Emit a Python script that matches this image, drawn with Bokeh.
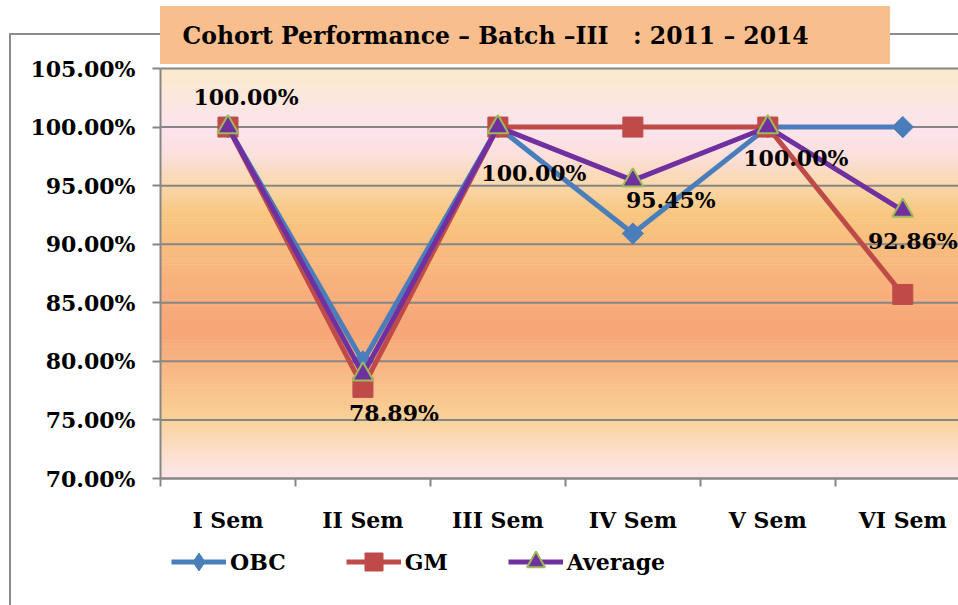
import numpy as np
from bokeh.plotting import figure
from bokeh.models import (Range1d, FixedTicker, PrintfTickFormatter, Legend, LegendItem,
                          ColumnDataSource, Label)
from bokeh.core.properties import value
from bokeh.embed import file_html
from bokeh.resources import INLINE

# ---------------- data ----------------
categories = ["I Sem", "II Sem", "III Sem", "IV Sem", "V Sem", "VI Sem"]
obc = [100.00, 80.00, 100.00, 90.91, 100.00, 100.00]
gm = [100.00, 77.78, 100.00, 100.00, 100.00, 85.71]
average = [100.00, 78.89, 100.00, 95.45, 100.00, 92.86]
average_labels = ["100.00%", "78.89%", "100.00%", "95.45%", "100.00%", "92.86%"]
y_ticks = [70, 75, 80, 85, 90, 95, 100, 105]
series_names = ["OBC", "GM", "Average"]
title_text = "Cohort Performance \u2013 Batch \u2013III \u00a0 : 2011 \u2013 2014"

# ---------------- style ----------------
FONT = "DejaVu Serif"
GRAY = "#868686"
BLUE = "#4A7EBB"
RED = "#BE4B48"
PURPLE = "#7030A0"
GREEN = "#9BBB59"

W, H = 958, 605
PLOT_LEFT, PLOT_TOP, PLOT_BOTTOM = 160, 68, 478      # pixel layout of plot area
CAT_W = 134.96                                      # pixel width of one category
Y_MIN, Y_MAX = 70, 105
px_per_y = (PLOT_BOTTOM - PLOT_TOP) / (Y_MAX - Y_MIN)

# label pixel offsets (style, not data)
lab_dx = [18, 31, 36, 38, 28, 10]
lab_dy = [-30, 39, 46, 20, 31, 30]

xs = list(range(1, len(categories) + 1))

# chart-area border and title box painted behind the (transparent) canvas
bg_css = ("linear-gradient(#F9BE8E, #F9BE8E) 160px 6px / 730px 58px no-repeat, "
          "linear-gradient(#8C8C8C, #8C8C8C) 9px 33px / 2px 700px no-repeat, "
          "linear-gradient(#8C8C8C, #8C8C8C) 9px 33px / 1000px 2px no-repeat, "
          "#ffffff")

x0 = 0.5 - PLOT_LEFT / CAT_W
x1 = 0.5 + (W - PLOT_LEFT) / CAT_W
y0 = Y_MIN - (H - PLOT_BOTTOM) / px_per_y
y1 = Y_MAX + PLOT_TOP / px_per_y

p = figure(width=W, height=H, output_backend="svg", toolbar_location=None,
           x_range=Range1d(x0, x1), y_range=Range1d(y0, y1),
           min_border=0, outline_line_color=None,
           background_fill_color=None, border_fill_color=None,
           styles={"background": bg_css})

# gradient background of the plot area
stops_y = [70, 72.5, 75, 80, 82.5, 85, 90, 92.5, 95, 97.5, 100, 105]
stops_r = [253, 252, 250, 248, 247, 248, 248, 249, 250, 252, 253, 251]
stops_g = [230, 222, 210, 180, 166, 172, 190, 199, 215, 224, 228, 234]
stops_b = [235, 200, 152, 130, 120, 124, 128, 128, 170, 220, 238, 204]
edges = np.linspace(Y_MIN, Y_MAX, 141)
mids = (edges[:-1] + edges[1:]) / 2
cols = ["#%02x%02x%02x" % (int(np.interp(m, stops_y, stops_r)),
                           int(np.interp(m, stops_y, stops_g)),
                           int(np.interp(m, stops_y, stops_b))) for m in mids]
tops = np.minimum(edges[1:] + 0.05, Y_MAX)
p.quad(left=0.5, right=8, bottom=edges[:-1], top=tops,
       fill_color=cols, line_color=None, level="image")

# horizontal gridlines at the y ticks, restricted to the plot area
p.segment(x0=0.5, x1=8, y0=y_ticks, y1=y_ticks, line_color=GRAY, line_width=2,
          level="underlay")

# axes (fixed inside the canvas-wide frame)
p.xaxis.fixed_location = Y_MIN
p.xaxis.bounds = (0.5, 8)
p.xaxis.ticker = FixedTicker(ticks=xs, minor_ticks=[x - 0.5 for x in xs] + [xs[-1] + 0.5])
p.xaxis.major_label_overrides = {x: c for x, c in zip(xs, categories)}
p.xaxis.major_tick_out = 0
p.xaxis.major_tick_in = 0
p.xaxis.minor_tick_out = 8
p.xaxis.minor_tick_in = 0
p.xaxis.minor_tick_line_color = GRAY
p.xaxis.minor_tick_line_width = 2
p.xaxis.major_label_standoff = 20
p.xaxis.axis_line_color = GRAY
p.xaxis.axis_line_width = 2

p.yaxis.fixed_location = 0.5
p.yaxis.bounds = (Y_MIN, Y_MAX)
p.yaxis.ticker = FixedTicker(ticks=y_ticks, minor_ticks=[])
p.yaxis.formatter = PrintfTickFormatter(format="%.2f%%")
p.yaxis.major_tick_out = 8
p.yaxis.major_tick_in = 0
p.yaxis.major_tick_line_color = GRAY
p.yaxis.major_tick_line_width = 2
p.yaxis.major_label_standoff = 17
p.yaxis.axis_line_color = GRAY
p.yaxis.axis_line_width = 2

for ax in (p.xaxis, p.yaxis):
    ax.major_label_text_font = FONT
    ax.major_label_text_font_style = "bold"
    ax.major_label_text_font_size = "22px"
    ax.major_label_text_color = "black"

p.xgrid.visible = False
p.ygrid.visible = False

# series
src = ColumnDataSource(dict(x=xs, obc=obc, gm=gm, avg=average, lab=average_labels,
                            dx=lab_dx, dy=lab_dy))
l1 = p.line("x", "obc", source=src, line_color=BLUE, line_width=5)
# diamond (used as legend swatch) sits fully under the rotated-square marker
m1_leg = p.scatter("x", "obc", source=src, marker="diamond", size=20,
                   fill_color=BLUE, line_color=BLUE)
m1 = p.scatter("x", "obc", source=src, marker="square", angle=np.pi / 4, size=15,
               fill_color=BLUE, line_color=BLUE)
l2 = p.line("x", "gm", source=src, line_color=RED, line_width=5)
m2 = p.scatter("x", "gm", source=src, marker="square", size=20,
               fill_color=RED, line_color=RED)
l3 = p.line("x", "avg", source=src, line_color=PURPLE, line_width=5)
m3 = p.scatter("x", "avg", source=src, marker="triangle", size=21,
               fill_color=PURPLE, line_color=GREEN, line_width=2)

p.text("x", "avg", text="lab", source=src, x_offset="dx", y_offset="dy",
       text_align="center", text_baseline="middle", text_font=value(FONT),
       text_font_style="bold", text_font_size="22px", text_color="black")

# title (inside the orange box painted by CSS)
p.add_layout(Label(x=0.5 + 22 / CAT_W, y=Y_MIN + (PLOT_BOTTOM - 35) / px_per_y,
                   text=title_text, text_baseline="middle", text_font=FONT,
                   text_font_style="bold", text_font_size="23.5px", text_color="black"))

# legend below the axis
legend = Legend(items=[LegendItem(label=series_names[0], renderers=[l1, m1_leg]),
                       LegendItem(label=series_names[1], renderers=[l2, m2]),
                       LegendItem(label=series_names[2], renderers=[l3, m3])],
                orientation="horizontal", location=(171, 21),
                glyph_width=55, glyph_height=45, spacing=60, label_standoff=4,
                margin=0, padding=6, border_line_color=None,
                background_fill_alpha=0,
                label_text_font=FONT, label_text_font_style="bold",
                label_text_font_size="22px", label_text_color="black")
p.add_layout(legend)

open("out.html", "w").write(file_html(p, INLINE))
